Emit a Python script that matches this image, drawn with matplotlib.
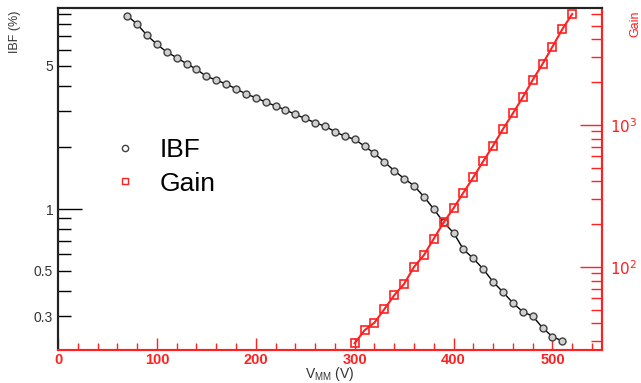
import matplotlib
matplotlib.use("Agg")
import matplotlib.pyplot as plt
from matplotlib.lines import Line2D
from matplotlib.ticker import FixedLocator, NullFormatter, FixedFormatter, MultipleLocator

plt.rcParams["font.family"] = ["Liberation Sans", "DejaVu Sans"]

# Ion back-flow vs. mesh voltage
v_ibf = [70, 80, 90, 100, 110, 120, 130, 140, 150, 160, 170, 180, 190, 200,
         210, 220, 230, 240, 250, 260, 270, 280, 290, 300, 310, 320, 330, 340,
         350, 360, 370, 380, 390, 400, 410, 420, 430, 440, 450, 460, 470, 480,
         490, 500, 510]
ibf = [8.81, 8.0, 7.06, 6.38, 5.85, 5.49, 5.13, 4.82, 4.45, 4.27, 4.08, 3.87,
       3.65, 3.50, 3.33, 3.19, 3.05, 2.90, 2.77, 2.64, 2.54, 2.39, 2.27, 2.19,
       2.03, 1.87, 1.70, 1.54, 1.41, 1.30, 1.15, 1.0, 0.861, 0.766, 0.635,
       0.574, 0.509, 0.441, 0.393, 0.348, 0.315, 0.300, 0.263, 0.238, 0.227]

# Gas gain vs. mesh voltage
v_gain = [300, 310, 320, 330, 340, 350, 360, 370, 380, 390, 400, 410, 420,
          430, 440, 450, 460, 470, 480, 490, 500, 510, 520]
gain = [29, 35.8, 40.5, 50.4, 63.2, 75.9, 100, 121, 158, 206, 259, 334, 428,
        555, 715, 937, 1208, 1567, 2075, 2690, 3558, 4730, 6050]

RED = "#ff2020"

fig = plt.figure(figsize=(6.41, 3.83), dpi=100)
ax = fig.add_axes([0.0905, 0.0862, 0.8485, 0.893])
ax2 = ax.twinx()

ax.plot(v_ibf, ibf, color="black", lw=1.0, marker="o", ms=5.0,
        mfc="#d0d0d0", mec="#404040", mew=1.0, zorder=3)
ax2.plot(v_gain, gain, color=RED, lw=1.5, marker="s", ms=5.5,
         mfc="none", mec=RED, mew=1.2, zorder=3)

ax.set_xlim(0, 550)
ax.set_yscale("log")
ax.set_ylim(0.205, 9.6)
ax2.set_yscale("log")
ax2.set_ylim(26, 6670)

# x axis: red, ticks pointing inward
ax.xaxis.set_major_locator(MultipleLocator(100))
ax.xaxis.set_minor_locator(MultipleLocator(20))
ax.tick_params(axis="x", which="both", direction="in", colors=RED,
               labelsize=10.5, pad=2, width=1.0)
ax.tick_params(axis="x", which="major", length=9)
ax.tick_params(axis="x", which="minor", length=5)
for lab in ax.get_xticklabels():
    lab.set_fontweight("bold")

# left axis: IBF
ax.yaxis.set_major_locator(FixedLocator([0.3, 0.5, 1, 5]))
ax.yaxis.set_major_formatter(FixedFormatter(["0.3", "0.5", "1", "5"]))
ax.yaxis.set_minor_locator(FixedLocator([0.4, 0.6, 0.7, 0.8, 0.9, 2, 3, 4, 6, 7, 8, 9]))
ax.yaxis.set_minor_formatter(NullFormatter())
ax.tick_params(axis="y", which="both", direction="in", colors="black",
               labelsize=10, width=1.0, labelcolor="#333333")
ax.tick_params(axis="y", which="major", length=9)
ax.tick_params(axis="y", which="minor", length=9)
ax.yaxis.get_major_ticks()[2].tick1line.set_markersize(17)

# right axis: gain
ax2.yaxis.set_major_locator(FixedLocator([100, 1000]))
ax2.yaxis.set_major_formatter(FixedFormatter(["$10^2$", "$10^3$"]))
ax2.yaxis.set_minor_locator(FixedLocator([30, 40, 50, 60, 70, 80, 90,
                                          200, 300, 400, 500, 600, 700, 800, 900,
                                          2000, 3000, 4000, 5000, 6000]))
ax2.yaxis.set_minor_formatter(NullFormatter())
ax2.tick_params(axis="y", which="both", direction="in", colors=RED,
                labelsize=11, width=1.0, pad=6)
ax2.tick_params(axis="y", which="major", length=16)
ax2.tick_params(axis="y", which="minor", length=8)

for a in (ax, ax2):
    a.spines["top"].set_color("#222222")
    a.spines["left"].set_color("#222222")
    a.spines["bottom"].set_color(RED)
    a.spines["right"].set_color(RED)
    for s in a.spines.values():
        s.set_linewidth(1.5)

ax.set_xlabel("V$_{\\mathregular{MM}}$ (V)", fontsize=10, color="#333333")
ax.xaxis.set_label_coords(0.5, -0.045, transform=ax.transAxes)
ax.xaxis.label.set_va("top")
ax.set_ylabel("IBF (%)", fontsize=9, color="#333333")
ax.yaxis.set_label_coords(-0.068, 0.93)
ax2.set_ylabel("Gain", fontsize=9, color=RED)
ax2.yaxis.set_label_coords(1.05, 0.955)

handles = [
    Line2D([], [], ls="none", marker="o", ms=4.5, mfc="none", mec="#404040", mew=1.0),
    Line2D([], [], ls="none", marker="s", ms=4.5, mfc="none", mec=RED, mew=1.0),
]
ax.legend(handles, ["IBF", "Gain"], loc="center left",
          bbox_to_anchor=(0.065, 0.535), frameon=False, fontsize=19,
          handlelength=0.6, handletextpad=1.0, labelspacing=0.35)

fig.savefig("out.png", dpi=100)
